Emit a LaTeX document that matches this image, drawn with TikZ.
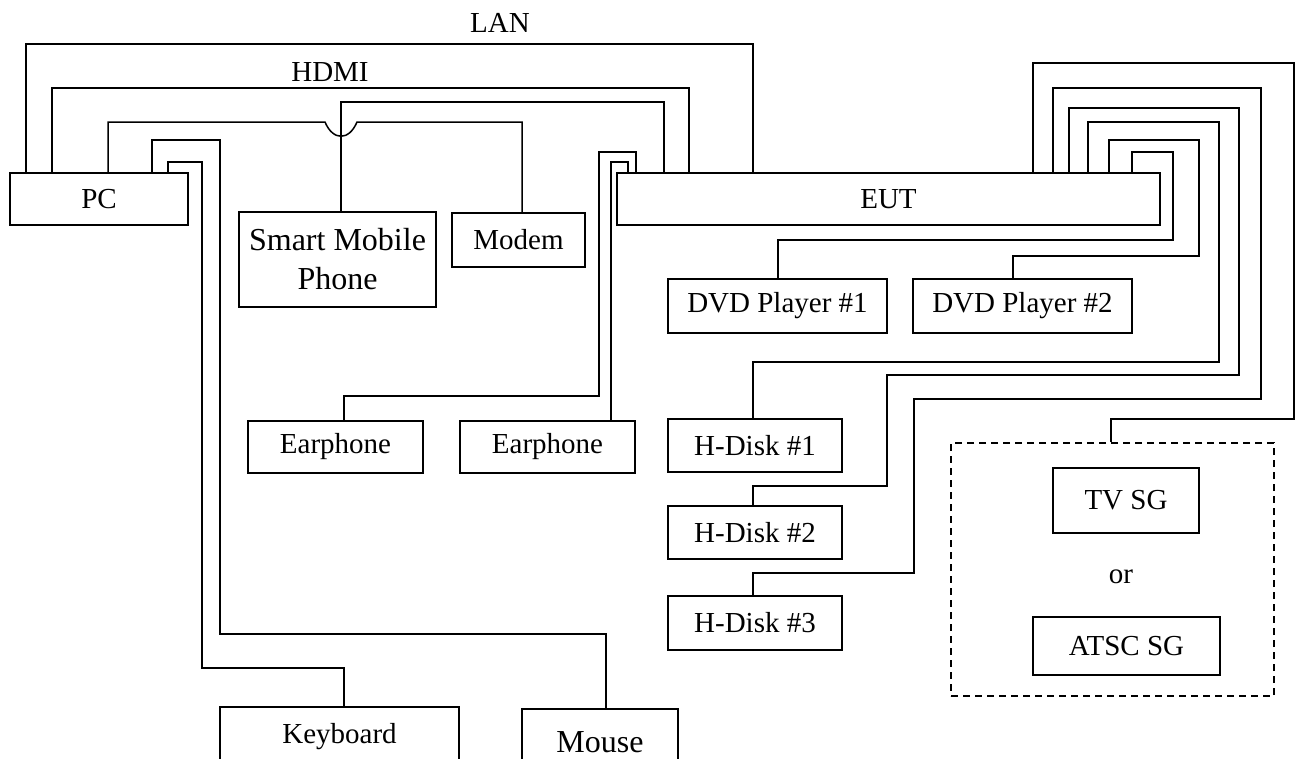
\documentclass[tikz,border=0pt]{standalone}
\usepackage{fontspec}
\setmainfont{Liberation Serif}

\begin{document}
\begin{tikzpicture}[x=1pt,y=-1pt,line width=1.5pt,
    box/.style={draw=black,inner sep=0pt,font=\fontsize{29}{34}\selectfont},
    big/.style={font=\fontsize{32}{39}\selectfont,align=center},
    lbl/.style={inner sep=0pt,font=\fontsize{29}{34}\selectfont}]
    \clip (0,0) rectangle (1298,758);

    \node[box,minimum width=178pt,minimum height=52pt] (PC) at (99,199) {PC};
    \node[box,minimum width=543pt,minimum height=52pt] (EUT) at (888.5,199) {EUT};
    \node[box,big,minimum width=197pt,minimum height=95pt] (Phone) at (337.5,259.5) {Smart Mobile\\Phone};
    \node[box,minimum width=133pt,minimum height=54pt] (Modem) at (518.5,240) {Modem};
    \node[box,minimum width=219pt,minimum height=54pt] (DvdA) at (777.5,306) {DVD Player \#1};
    \node[box,minimum width=219pt,minimum height=54pt] (DvdB) at (1022.5,306) {DVD Player \#2};
    \node[box,minimum width=175pt,minimum height=52pt] (EarA) at (335.5,447) {Earphone};
    \node[box,minimum width=175pt,minimum height=52pt] (EarB) at (547.5,447) {Earphone};
    \node[box,minimum width=174pt,minimum height=53pt] (DiskA) at (755,445.5) {H-Disk \#1};
    \node[box,minimum width=174pt,minimum height=53pt] (DiskB) at (755,532.5) {H-Disk \#2};
    \node[box,minimum width=174pt,minimum height=54pt] (DiskC) at (755,623) {H-Disk \#3};
    \node[box,minimum width=239pt,minimum height=60pt] (Kbd) at (339.5,737) {Keyboard};
    \node[box,big,minimum width=156pt,minimum height=66pt] (Mouse) at (600,742) {Mouse};

    % signal generator group
    \node[draw=black,dashed,dash pattern=on 7pt off 5pt,minimum width=323pt,minimum height=253pt] (SG) at (1112.5,569.5) {};
    \node[box,minimum width=146pt,minimum height=65pt] (TvSG) at (1126,500.5) {TV SG};
    \node[lbl] (Or) at (1121,577) {or};
    \node[box,minimum width=187pt,minimum height=58pt] (Atsc) at (1126.5,646) {ATSC SG};

    \node[lbl] (LanLbl) at (500,23) {LAN};
    \node[lbl] (HdmiLbl) at (330,72) {HDMI};

    % PC side
    \draw (26,0 |- PC.north) |- (753,44) -- (753,0 |- EUT.north);
    \draw (52,0 |- PC.north) |- (689,88) -- (689,0 |- EUT.north);
    \draw (108,0 |- PC.north) |- (325,122) .. controls (333,141) and (349,141) .. (357,122) -- (522,122) -- (522,0 |- Modem.north);
    \draw (341,0 |- Phone.north) |- (664,102) -- (664,0 |- EUT.north);
    \draw (152,0 |- PC.north) |- (220,140) |- (606,634) -- (606,0 |- Mouse.north);
    \draw (168,0 |- PC.north) |- (202,162) |- (344,668) -- (344,0 |- Kbd.north);
    \draw (344,0 |- EarA.north) |- (599,396) |- (636,152) -- (636,0 |- EUT.north);
    \draw (611,0 |- EarB.north) |- (628,162) -- (628,0 |- EUT.north);

    % EUT side
    \draw (1132,0 |- EUT.north) |- (1173,152) |- (778,240) -- (778,0 |- DvdA.north);
    \draw (1109,0 |- EUT.north) |- (1199,140) |- (1013,256) -- (1013,0 |- DvdB.north);
    \draw (1088,0 |- EUT.north) |- (1219,122) |- (753,362) -- (753,0 |- DiskA.north);
    \draw (1069,0 |- EUT.north) |- (1239,108) |- (887,375) |- (753,486) -- (753,0 |- DiskB.north);
    \draw (1053,0 |- EUT.north) |- (1261,88) |- (914,399) |- (753,573) -- (753,0 |- DiskC.north);
    \draw (1033,0 |- EUT.north) |- (1294,63) |- (1111,419) -- (1111,0 |- SG.north);
\end{tikzpicture}
\end{document}
